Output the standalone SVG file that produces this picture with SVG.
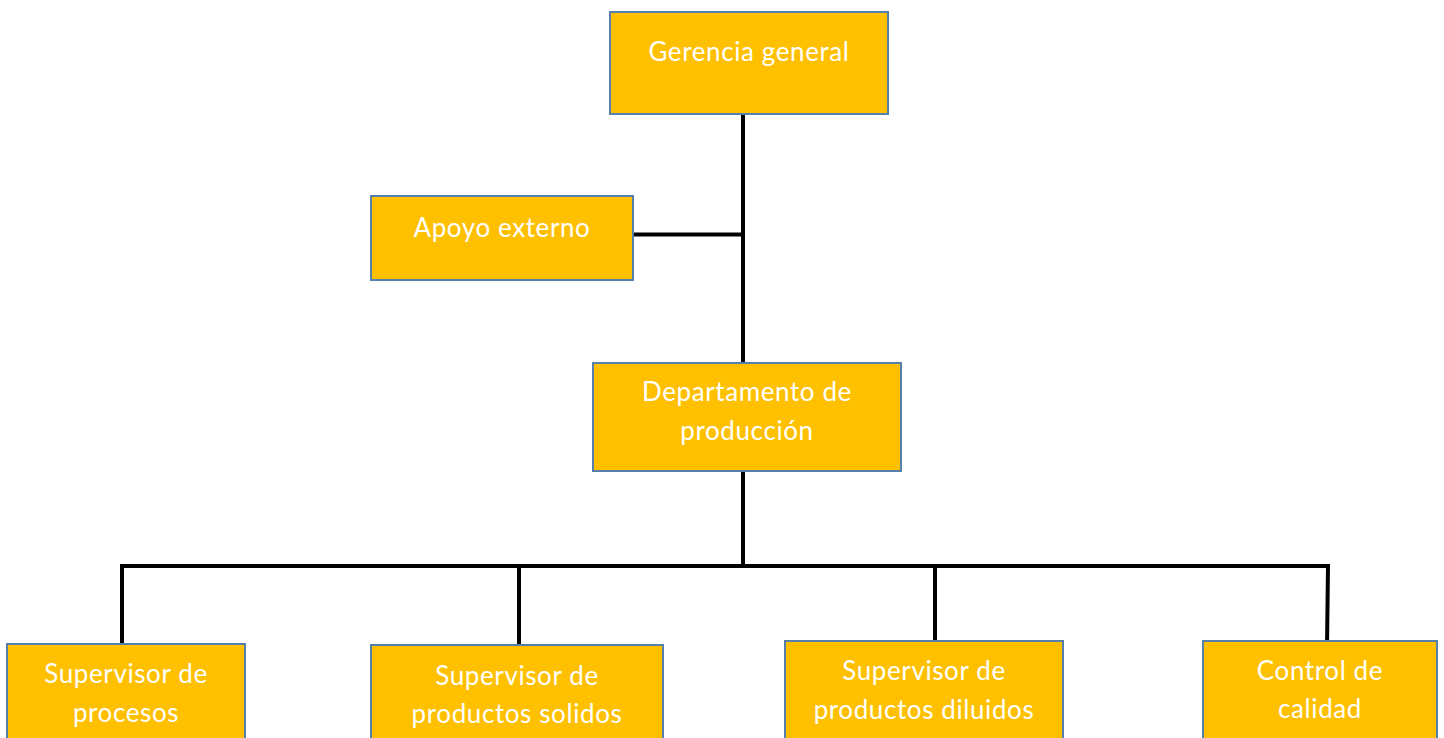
<svg xmlns="http://www.w3.org/2000/svg" width="1444" height="738" viewBox="0 0 1444 738">
<style>
.box{fill:#FFC000;stroke:#5580AB;stroke-width:2}
.t{font-family:Lato,"Open Sans",sans-serif;font-size:26px;letter-spacing:0.6px;fill:#FFFFFF;text-anchor:middle}
.c{stroke:#000;stroke-width:4;fill:none}
</style>
<rect width="1444" height="738" fill="#FFFFFF"/>
<g id="connectors">
<line class="c" x1="743" y1="114" x2="743" y2="363"/>
<line class="c" x1="633" y1="234.5" x2="743" y2="234.5"/>
<line class="c" x1="743" y1="471" x2="743" y2="566"/>
<polyline class="c" points="122,651 122,566 1328,566 1327,646"/>
<line class="c" x1="519" y1="566" x2="519" y2="646"/>
<line class="c" x1="935" y1="566" x2="935" y2="642"/>
</g>
<g id="gerencia">
<rect class="box" x="610" y="12" width="278" height="102"/>
<text class="t" x="749" y="61">Gerencia general</text>
</g>
<g id="apoyo">
<rect class="box" x="371" y="196" width="262" height="84"/>
<text class="t" x="502" y="237">Apoyo externo</text>
</g>
<g id="departamento">
<rect class="box" x="593" y="363" width="308" height="108"/>
<text class="t" x="747" y="401">Departamento de</text>
<text class="t" x="747" y="440">producción</text>
</g>
<g id="procesos">
<rect class="box" x="7" y="644" width="238" height="100"/>
<text class="t" x="126" y="683">Supervisor de</text>
<text class="t" x="126" y="722">procesos</text>
</g>
<g id="solidos">
<rect class="box" x="371" y="645" width="292" height="100"/>
<text class="t" x="517" y="685">Supervisor de</text>
<text class="t" x="517" y="723">productos solidos</text>
</g>
<g id="diluidos">
<rect class="box" x="785" y="641" width="278" height="100"/>
<text class="t" x="924" y="680">Supervisor de</text>
<text class="t" x="924" y="719">productos diluidos</text>
</g>
<g id="calidad">
<rect class="box" x="1203" y="641" width="234" height="100"/>
<text class="t" x="1320" y="680">Control de</text>
<text class="t" x="1320" y="718">calidad</text>
</g>
</svg>
